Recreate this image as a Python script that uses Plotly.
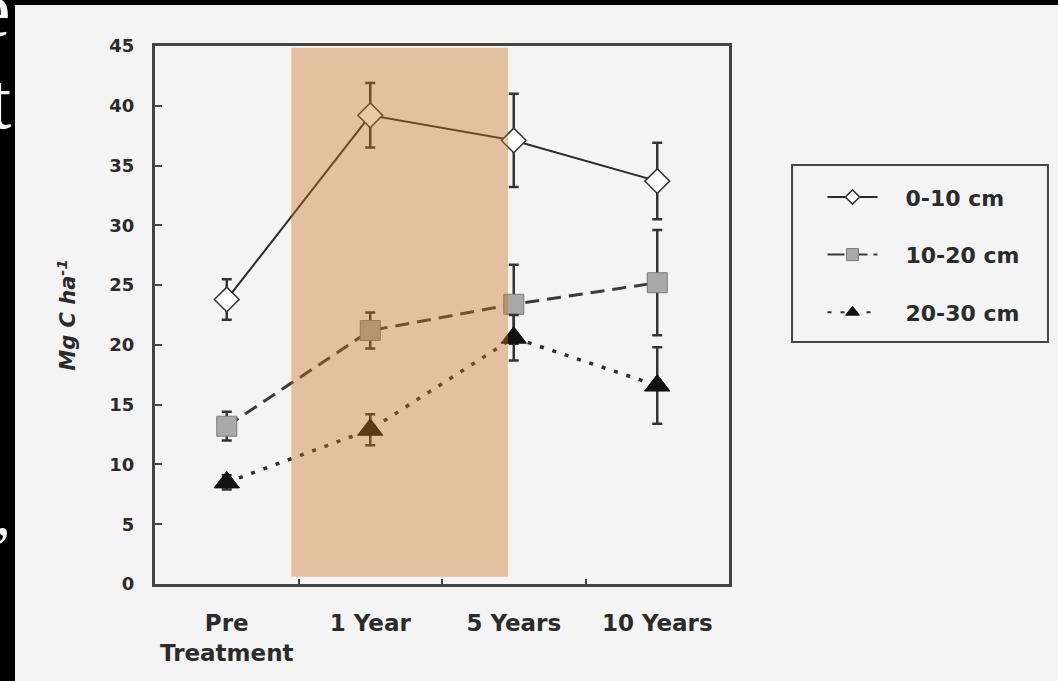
import plotly.graph_objects as go

# Sampling dates and carbon stocks (Mg C ha-1) by soil depth
categories = ["Pre<br>Treatment", "1 Year", "5 Years", "10 Years"]

depth_0_10 = [23.8, 39.2, 37.1, 33.7]
err_0_10 = [1.7, 2.7, 3.9, 3.2]

depth_10_20 = [13.2, 21.2, 23.4, 25.2]
err_10_20 = [1.2, 1.5, 3.3, 4.4]

depth_20_30 = [8.5, 12.9, 20.6, 16.6]
err_20_30 = [0.6, 1.3, 1.9, 3.2]

series_names = ["0-10 cm", "10-20 cm", "20-30 cm"]

# Treatment period highlighted on the category axis
treatment_span = [0.45, 1.96]

FONT = "DejaVu Sans, Verdana, sans-serif"
INK = "#2b2b2b"
BG = "#f4f4f4"

styles = [
    dict(line=dict(color="#2a2a2a", width=2),
         marker=dict(symbol="diamond", size=19, color="white",
                     line=dict(color="#333333", width=1.5))),
    dict(line=dict(color="#3a3a3a", width=3, dash="14px,8px"),
         marker=dict(symbol="square", size=20, color="#a9a9a9",
                     line=dict(color="#7a7a7a", width=1))),
    dict(line=dict(color="#2e2e2e", width=3.5, dash="4px,9px"),
         marker=dict(symbol="triangle-up", size=22, color="#111111",
                     line=dict(color="#111111", width=1))),
]
legend_marker_sizes = [11, 12, 12]
legend_dashes = ["solid", "17px,6px", "4px,9px"]

fig = go.Figure()

for name, vals, errs, st in zip(series_names,
                                [depth_0_10, depth_10_20, depth_20_30],
                                [err_0_10, err_10_20, err_20_30], styles):
    fig.add_trace(go.Scatter(
        x=categories, y=vals, name=name, mode="lines+markers",
        line=st["line"], marker=st["marker"], showlegend=False,
        error_y=dict(type="data", array=errs, visible=True,
                     color="#333333", thickness=2.5, width=5),
    ))

# Legend entries with compact symbols
for i, (name, st) in enumerate(zip(series_names, styles)):
    m = dict(st["marker"])
    m["size"] = legend_marker_sizes[i]
    fig.add_trace(go.Scatter(
        x=[None], y=[None], name="&nbsp;&nbsp;&nbsp;" + name,
        mode="lines+markers",
        line=dict(color=st["line"]["color"], width=2, dash=legend_dashes[i]),
        marker=m, legendgroup=name, showlegend=True,
    ))

# Treatment period band, blended over lines and markers
fig.add_shape(type="rect", xref="x", yref="y",
              x0=treatment_span[0], x1=treatment_span[1], y0=0.6, y1=44.85,
              fillcolor="rgba(199,114,34,0.4)", line=dict(width=0),
              layer="above")

# Legend frame
fig.add_shape(type="rect", xref="paper", yref="paper",
              x0=1.1098, x1=1.5557, y0=0.4498, y1=0.7788,
              line=dict(color="#444444", width=2), fillcolor=BG, layer="below")

# Dark slide margins around the figure
fig.add_shape(type="rect", xref="paper", yref="paper",
              x0=-0.35, x1=-0.2439, y0=-0.4, y1=1.2,
              fillcolor="black", line=dict(width=0), layer="below")
fig.add_shape(type="rect", xref="paper", yref="paper",
              x0=-0.35, x1=1.7, y0=1.0762, y1=1.2,
              fillcolor="black", line=dict(width=0), layer="below")

# Edge of the slide text running off the left side
for ch, ypos, size in [("e", 1.0204, 80), ("t", 0.8494, 80), (",", 0.0985, 64)]:
    fig.add_annotation(text=ch, xref="paper", yref="paper",
                       x=-0.2474, y=ypos, xanchor="right", yanchor="bottom",
                       yshift=-20, showarrow=False,
                       font=dict(family="Liberation Serif, Times New Roman, serif",
                                 size=size, color="white"))

fig.update_xaxes(
    type="category", range=[-0.5, 3.5], tickson="boundaries",
    ticks="inside", ticklen=5, tickwidth=2, tickcolor="#444444",
    showline=True, linewidth=3, linecolor="#444444", mirror=True,
    showgrid=False, zeroline=False, ticklabelstandoff=16,
    tickangle=0, automargin=False,
    tickfont=dict(family=FONT, size=23, color=INK, weight="bold"),
)
fig.update_yaxes(
    range=[0, 45], dtick=5, tick0=0,
    ticks="inside", ticklen=7, tickwidth=2, tickcolor="#444444",
    showline=True, linewidth=3, linecolor="#444444", mirror=True,
    showgrid=False, zeroline=False, ticklabelstandoff=14,
    automargin=False,
    tickfont=dict(family=FONT, size=18, color=INK, weight="bold"),
    title=dict(text="Mg C ha<sup>-1</sup>", standoff=28,
               font=dict(family=FONT, size=21, color=INK,
                         weight="bold", style="italic")),
)

fig.update_layout(
    width=1058, height=681,
    margin=dict(l=155, r=329, t=46, b=97, autoexpand=False),
    paper_bgcolor=BG, plot_bgcolor=BG,
    legend=dict(x=1.1629, y=0.758, xanchor="left", yanchor="top",
                bgcolor="rgba(0,0,0,0)", borderwidth=0,
                traceorder="grouped", tracegroupgap=26, itemwidth=50,
                font=dict(family=FONT, size=22, color=INK, weight="bold")),
)

fig.write_html("out.html")
